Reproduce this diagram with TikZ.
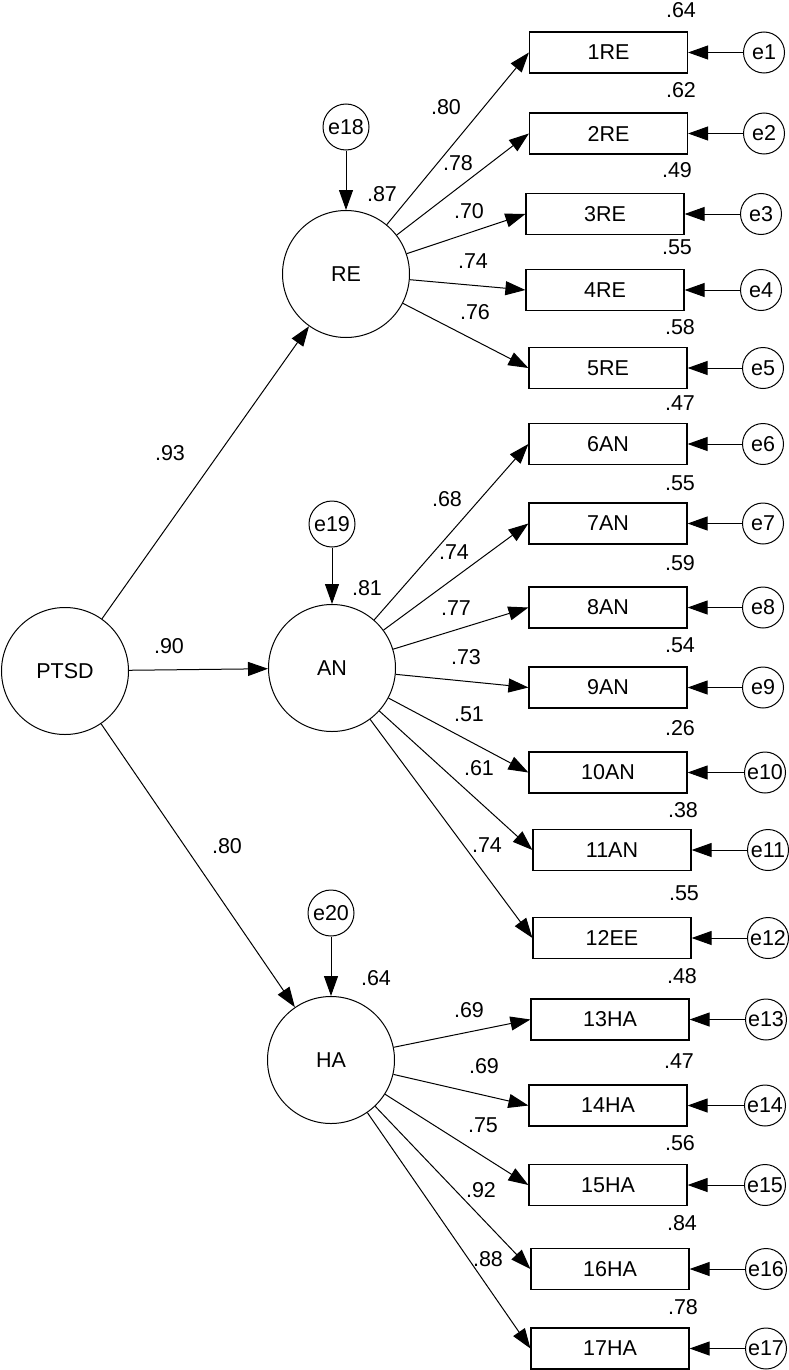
\documentclass[tikz,border=0pt]{standalone}
\usepackage{fontspec}
\setmainfont{Liberation Sans}
\usetikzlibrary{arrows.meta}
\begin{document}
\begin{tikzpicture}[x=1pt,y=-1pt,
  txt/.style={font=\fontsize{21.5}{24}\selectfont},
  lat/.style={txt, draw, circle, line width=1pt, minimum size=127pt, inner sep=0pt},
  err/.style={txt, draw, circle, line width=1pt, minimum size=41pt, inner sep=0pt},
  derr/.style={err, minimum size=46pt},
  obs/.style={txt, draw, rectangle, line width=1.2pt, minimum width=158pt, minimum height=41pt, inner sep=0pt},
  lbl/.style={txt, inner sep=0pt},
  arr/.style={line width=1pt, -{Triangle[length=20pt,width=14pt]}}
]
\path[use as bounding box] (0,0) rectangle (789,1370);

% latent variables
\node[lat] (PTSD) at (65,671) {PTSD};
\node[lat] (RE) at (346,274) {RE};
\node[lat] (AN) at (332,668) {AN};
\node[lat] (HA) at (331,1060) {HA};

% disturbances
\node[derr] (e18) at (346,127) {e18};
\node[derr] (e19) at (332,524) {e19};
\node[derr] (e20) at (331,913) {e20};

% observed
\foreach \n/\x/\y in {1RE/608.5/52.5, 2RE/608.5/133.5, 3RE/605/214, 4RE/605/290, 5RE/608/368,
  6AN/608/444, 7AN/608/523.5, 8AN/608/607.5, 9AN/608/687.5, 10AN/608/772.5, 11AN/612/850,
  12EE/612/938, 13HA/610/1019.5, 14HA/608/1105.5, 15HA/608/1185, 16HA/610/1269, 17HA/610/1348.5}
  {\node[obs] (b\n) at (\x,\y) {\n};}

% errors
\foreach \i/\b/\x/\y in {1/1RE/764/52.5, 2/2RE/764/133.5, 3/3RE/761/214, 4/4RE/761/290, 5/5RE/763/368,
  6/6AN/763/444, 7/7AN/763/523.5, 8/8AN/763/607.5, 9/9AN/763/687.5, 10/10AN/765/772.5, 11/11AN/768/850,
  12/12EE/768/938, 13/13HA/766/1019.5, 14/14HA/765/1105.5, 15/15HA/765/1185, 16/16HA/766/1269, 17/17HA/766/1348.5}
  {\node[err] (e\i) at (\x,\y) {e\i};
   \draw[arr] (e\i) -- (b\b);}

% structural paths
\draw[arr] (PTSD) -- (RE);
\draw[arr] (PTSD) -- (AN);
\draw[arr] (PTSD) -- (HA);
\draw[arr] (e18) -- (RE);
\draw[arr] (e19) -- (AN);
\draw[arr] (e20) -- (HA);

% loadings
\foreach \b in {1RE,2RE,3RE,4RE,5RE} {\draw[arr] (RE) -- (b\b.west);}
\foreach \b in {6AN,7AN,8AN,9AN,10AN,11AN,12EE} {\draw[arr] (AN) -- (b\b.west);}
\foreach \b in {13HA,14HA,15HA,16HA,17HA} {\draw[arr] (HA) -- (b\b.west);}

% path coefficients
\node[lbl] (l93) at (170,453) {.93};
\node[lbl] (l90) at (169,646) {.90};
\node[lbl] (l80p) at (227,846) {.80};
\node[lbl] (l87) at (382,194) {.87};
\node[lbl] (l81) at (367,588) {.81};
\node[lbl] (l64h) at (376,978) {.64};

\node[lbl] (r1) at (446,107) {.80};
\node[lbl] (r2) at (458,163) {.78};
\node[lbl] (r3) at (469,211) {.70};
\node[lbl] (r4) at (473,261) {.74};
\node[lbl] (r5) at (475,312) {.76};

\node[lbl] (a6) at (447,499) {.68};
\node[lbl] (a7) at (454,552) {.74};
\node[lbl] (a8) at (456,608) {.77};
\node[lbl] (a9) at (466,657) {.73};
\node[lbl] (a10) at (469,714) {.51};
\node[lbl] (a11) at (479,768) {.61};
\node[lbl] (a12) at (487,845) {.74};

\node[lbl] (h13) at (469,1010) {.69};
\node[lbl] (h14) at (484,1066) {.69};
\node[lbl] (h15) at (483,1125) {.75};
\node[lbl] (h16) at (481,1190) {.92};
\node[lbl] (h17) at (488,1259) {.88};

% squared multiple correlations
\foreach \v/\x/\y/\k in {.64/681/10/1, .62/681/90/2, .49/677/170/3, .55/677/247/4, .58/680/327/5,
  .47/680/403/6, .55/680/483/7, .59/680/563/8, .54/680/645/9, .26/680/728/10, .38/683/810/11,
  .55/684/893/12, .48/682/976/13, .47/679/1061/14, .56/680/1143/15, .84/682/1223/16, .78/683/1307/17}
  {\node[lbl] (s\k) at (\x,\y) {\v};}
\end{tikzpicture}
\end{document}
